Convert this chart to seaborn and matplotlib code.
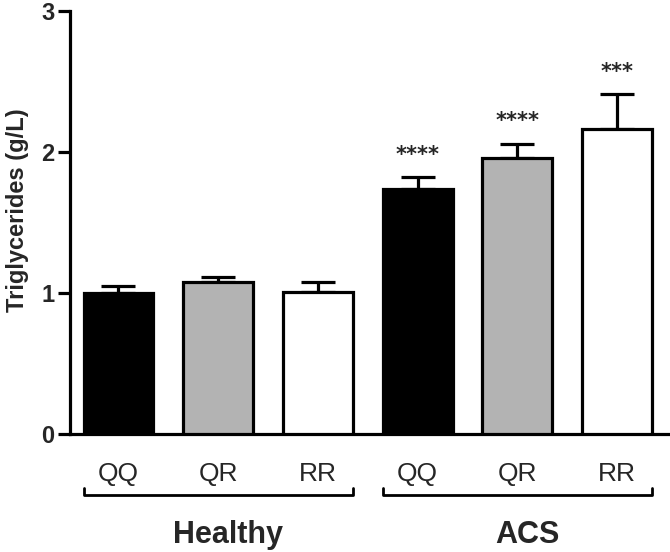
import matplotlib
matplotlib.use("Agg")
import matplotlib.pyplot as plt
import seaborn as sns
import pandas as pd
import numpy as np

# ---- data ----
groups = ["Healthy", "Healthy", "Healthy", "ACS", "ACS", "ACS"]
genotypes = ["QQ", "QR", "RR", "QQ", "QR", "RR"]
means = [1.00, 1.08, 1.01, 1.74, 1.96, 2.16]
sems = [0.05, 0.03, 0.07, 0.08, 0.10, 0.25]
stars = ["", "", "", "****", "****", "***"]
bar_colors = ["#000000", "#b3b3b3", "#ffffff", "#000000", "#b3b3b3", "#ffffff"]
y_ticks = [0, 1, 2, 3]
y_label = "Triglycerides (g/L)"

sns.set_theme(style="white")
plt.rcParams["font.family"] = ["Liberation Sans", "DejaVu Sans"]

ids = [f"{g} {t}" for g, t in zip(groups, genotypes)]
df = pd.DataFrame({"id": ids, "mean": means})

fig = plt.figure(figsize=(6.7, 5.52), dpi=100)
ax = fig.add_axes([0.1045, 0.2138, 0.894, 0.7662])

sns.barplot(data=df, x="id", y="mean", hue="id", order=ids, hue_order=ids,
            palette=bar_colors, width=0.7, edgecolor="black", linewidth=2.3,
            saturation=1, errorbar=None, legend=False, ax=ax, zorder=3)

xpos = np.arange(len(ids))
ax.errorbar(xpos, means, yerr=[np.zeros(len(sems)), sems], fmt="none",
            ecolor="black", elinewidth=2.3, capsize=12, capthick=2.3, zorder=2)

for x, m, s, st in zip(xpos, means, sems, stars):
    if st:
        ax.annotate(st, (x, m + s), xytext=(0, 9), textcoords="offset points",
                    ha="center", va="bottom", fontsize=15, fontweight="bold",
                    family="DejaVu Sans")

ax.set_ylim(0, 3)
ax.set_xlim(-0.486, 5.52)
ax.set_yticks(y_ticks)
ax.set_yticklabels([str(t) for t in y_ticks], fontsize=17, fontweight="bold")
ax.set_xticks(xpos)
ax.set_xticklabels(genotypes, fontsize=19)
ax.tick_params(axis="x", length=0, pad=20)
ax.tick_params(axis="y", length=9, width=2.3, pad=2, color="black", left=True)
ax.set_xlabel("")
ax.set_ylabel(y_label, fontsize=17, fontweight="bold")
ax.yaxis.set_label_coords(-0.068, 0.53)

for side in ["top", "right"]:
    ax.spines[side].set_visible(False)
for side in ["left", "bottom"]:
    ax.spines[side].set_color("black")
    ax.spines[side].set_linewidth(2.3)
ax.grid(False)

# group brackets and labels
trans = matplotlib.transforms.blended_transform_factory(ax.transData, fig.transFigure)
y_br = 1 - 495 / 552
y_tip = 1 - 488 / 552
y_txt = 1 - 543 / 552
for g in ["Healthy", "ACS"]:
    idx = [i for i, gg in enumerate(groups) if gg == g]
    x0, x1 = min(idx) - 0.35, max(idx) + 0.35
    line = matplotlib.lines.Line2D([x0, x0, x1, x1], [y_tip, y_br, y_br, y_tip],
                                   transform=trans, color="black", lw=2.0,
                                   clip_on=False)
    fig.add_artist(line)
    fig.text((x0 + x1) / 2 + 0.1, y_txt, g, transform=trans, ha="center",
             va="baseline", fontsize=22, fontweight="bold")

fig.savefig("out.png", dpi=100)
